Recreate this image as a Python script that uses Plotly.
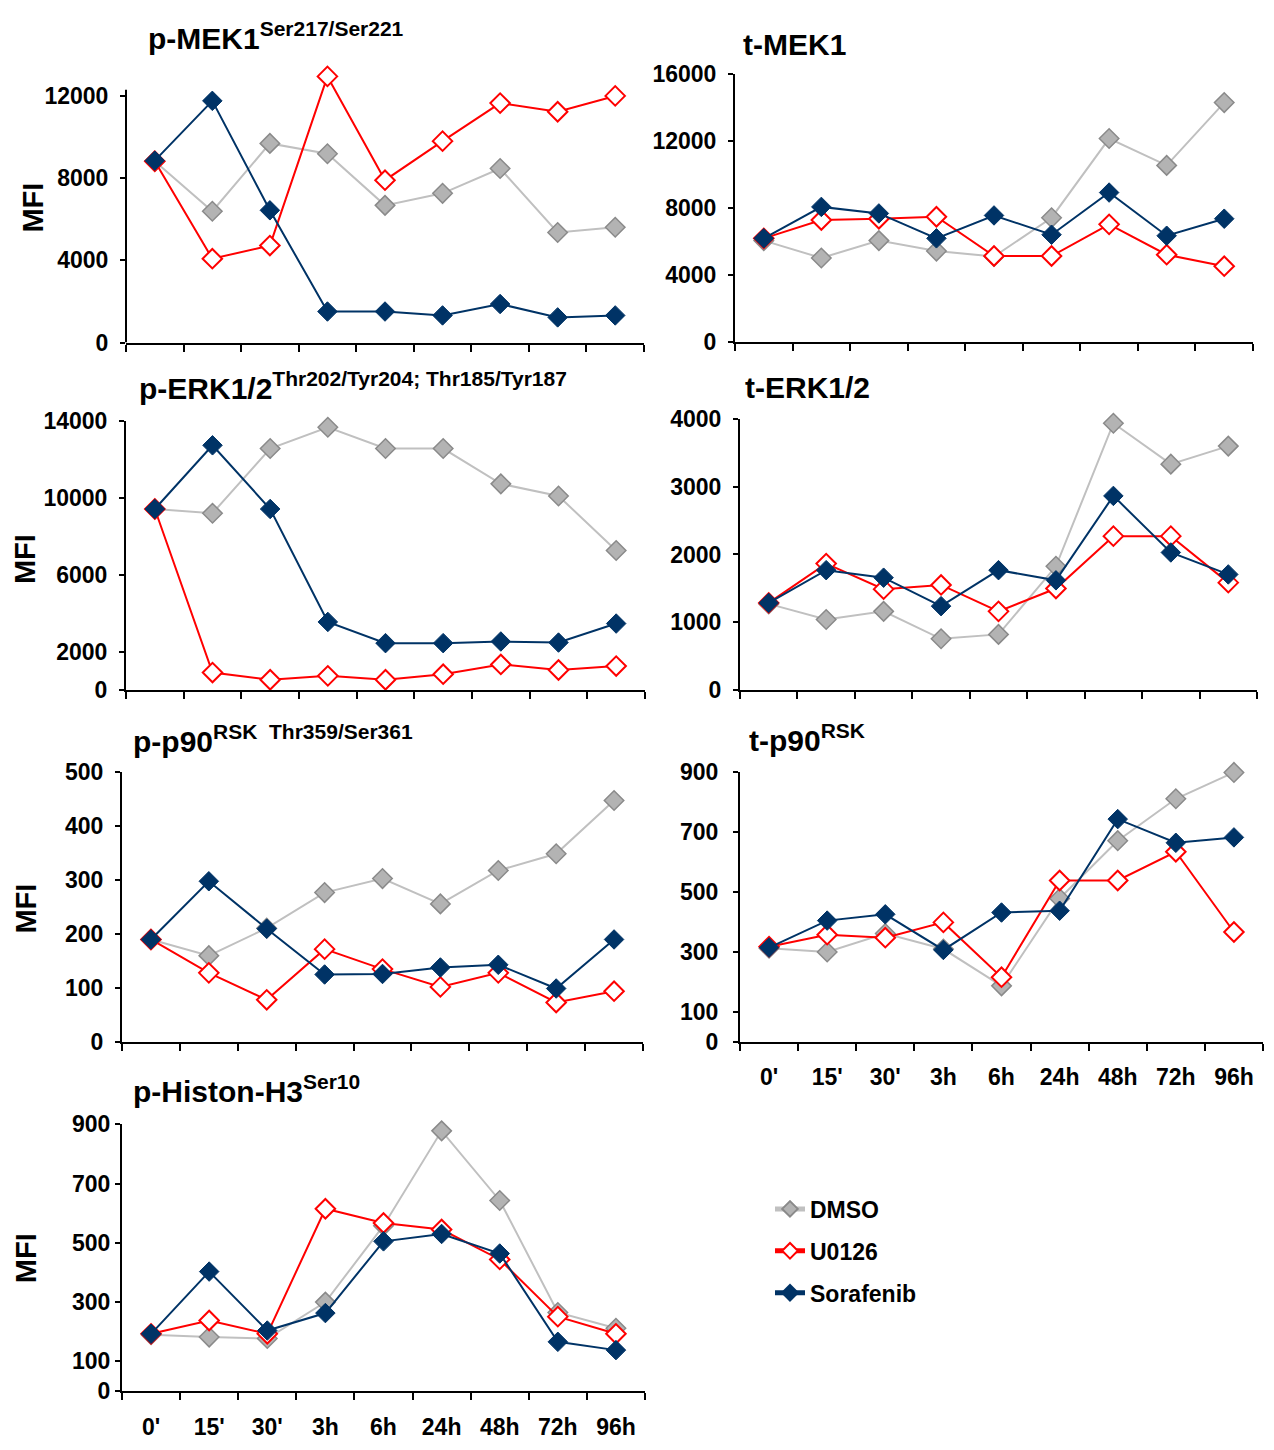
import plotly.graph_objects as go

# ---------------- data ----------------
categories = ["0'", "15'", "30'", "3h", "6h", "24h", "48h", "72h", "96h"]
series_names = ["DMSO", "U0126", "Sorafenib"]

pmek_dmso = [8820, 6390, 9690, 9185, 6675, 7260, 8470, 5355, 5610]
pmek_u0126 = [8820, 4080, 4720, 12950, 7900, 9800, 11650, 11230, 12000]
pmek_sora = [8850, 11760, 6435, 1510, 1510, 1320, 1875, 1225, 1320]

tmek_dmso = [6050, 5015, 6050, 5425, 5100, 7415, 12135, 10535, 14280]
tmek_u0126 = [6185, 7280, 7355, 7470, 5130, 5130, 7020, 5210, 4525]
tmek_sora = [6185, 8060, 7670, 6185, 7550, 6400, 8915, 6340, 7355]

perk_dmso = [9430, 9210, 12580, 13690, 12580, 12580, 10740, 10110, 7265]
perk_u0126 = [9430, 905, 530, 735, 530, 820, 1330, 1040, 1245]
perk_sora = [9430, 12750, 9430, 3545, 2440, 2440, 2525, 2470, 3460]

terk_dmso = [1270, 1040, 1160, 755, 820, 1825, 3937, 3333, 3599]
terk_u0126 = [1285, 1865, 1488, 1550, 1160, 1497, 2270, 2270, 1584]
terk_sora = [1285, 1768, 1657, 1237, 1768, 1618, 2864, 2029, 1705]

prsk_dmso = [190, 160, 211, 277, 303, 256, 318, 349, 448]
prsk_u0126 = [190, 128, 78, 172, 135, 102, 128, 73, 94]
prsk_sora = [190, 298, 210, 125, 126, 138, 143, 99, 190]

trsk_dmso = [313, 300, 362, 310, 187, 479, 672, 812, 900]
trsk_u0126 = [318, 358, 348, 399, 216, 539, 539, 635, 367]
trsk_sora = [315, 405, 426, 307, 432, 438, 744, 665, 683]

ph3_dmso = [190, 182, 177, 300, 558, 878, 643, 265, 212]
ph3_u0126 = [193, 238, 193, 615, 567, 545, 444, 251, 193]
ph3_sora = [193, 403, 204, 263, 505, 530, 464, 166, 138]

titles = [
    "p-MEK1<sup>Ser217/Ser221</sup>",
    "t-MEK1",
    "p-ERK1/2<sup>Thr202/Tyr204; Thr185/Tyr187</sup>",
    "t-ERK1/2",
    "p-p90<sup>RSK  Thr359/Ser361</sup>",
    "t-p90<sup>RSK</sup>",
    "p-Histon-H3<sup>Ser10</sup>",
]
yticks = [
    [0, 4000, 8000, 12000],
    [0, 4000, 8000, 12000, 16000],
    [0, 2000, 6000, 10000, 14000],
    [0, 1000, 2000, 3000, 4000],
    [0, 100, 200, 300, 400, 500],
    [0, 100, 300, 500, 700, 900],
    [0, 100, 300, 500, 700, 900],
]
panel_data = [
    (pmek_dmso, pmek_u0126, pmek_sora),
    (tmek_dmso, tmek_u0126, tmek_sora),
    (perk_dmso, perk_u0126, perk_sora),
    (terk_dmso, terk_u0126, terk_sora),
    (prsk_dmso, prsk_u0126, prsk_sora),
    (trsk_dmso, trsk_u0126, trsk_sora),
    (ph3_dmso, ph3_u0126, ph3_sora),
]

# ---------------- layout geometry (pixels of the 1274x1450 page) ----------------
PAGE_W, PAGE_H, BODY = 1274, 1450, 8
W, H = PAGE_W - 2 * BODY, PAGE_H - 2 * BODY


def px(x):
    return (x - BODY) / W


def py(y):
    return 1 - (y - BODY) / H


# x-left, x-right, pixel of y=0, ref tick value, pixel of ref tick, range max, ylabel standoff
geom = [
    (126, 644, 335.5, 12000, 84.3, 13200, 7),
    (735, 1253, 335.0, 16000, 61.7, 16000, 7),
    (126, 645, 689.3, 14000, 415.7, 14000, 7),
    (740, 1257, 689.3, 4000, 413.3, 4000, 7),
    (122, 643, 1047.7, 500, 773.3, 500, 7),
    (740, 1263, 1047.7, 900, 773.3, 900, 10),
    (122, 645, 1403.3, 900, 1131.7, 900, 0),
]
show_xlabels = [False, False, False, False, False, True, True]
title_pos = [(146, 37), (741, 43), (137, 393), (743, 392), (131, 753), (747, 752), (131, 1109)]
mfi_pos = [(33, 198), None, (25, 556), None, (26, 912), None, (26, 1268)]

FONT = "Liberation Sans, Arial, sans-serif"
styles = [
    dict(line=dict(color="#C0C0C0", width=2),
         marker=dict(symbol="diamond", size=15, color="#B3B3B3", line=dict(color="#8A8A8A", width=1.5))),
    dict(line=dict(color="#FF0000", width=2),
         marker=dict(symbol="diamond", size=15, color="#FFFFFF", line=dict(color="#FF0000", width=2))),
    dict(line=dict(color="#003366", width=2),
         marker=dict(symbol="diamond", size=15, color="#003366", line=dict(color="#003366", width=1))),
]

fig = go.Figure()
layout = dict(
    width=W, height=H,
    margin=dict(l=0, r=0, t=0, b=0),
    paper_bgcolor="white", plot_bgcolor="white",
    font=dict(family=FONT, color="black"),
    showlegend=True,
    legend=dict(x=px(770), y=py(1196), xanchor="left", yanchor="top",
                font=dict(size=23, family=FONT, weight="bold"),
                tracegroupgap=9, itemsizing="constant", bgcolor="rgba(0,0,0,0)"),
)
annotations = []
shapes = []

for i, (g, data) in enumerate(zip(geom, panel_data), start=1):
    xl, xr, y0, tv, tpx, rmax, stand = g
    scale = (y0 - tpx) / tv
    top = y0 - rmax * scale
    xa = "x" if i == 1 else f"x{i}"
    ya = "y" if i == 1 else f"y{i}"
    layout[f"xaxis{i}"] = dict(
        domain=[px(xl), px(xr)], anchor=ya, type="category",
        categoryorder="array", categoryarray=categories, range=[-0.5, 8.5],
        tickson="boundaries", ticks="outside", ticklen=7, tickwidth=2, tickcolor="black",
        showline=True, linewidth=2, linecolor="black", showgrid=False, zeroline=False,
        showticklabels=show_xlabels[i - 1], ticklabelstandoff=14,
        tickfont=dict(size=23, family=FONT, weight="bold", color="black"),
    )
    layout[f"yaxis{i}"] = dict(
        domain=[py(y0), py(top)], anchor=xa, range=[0, rmax],
        tickmode="array", tickvals=yticks[i - 1], ticktext=[str(v) for v in yticks[i - 1]],
        ticks="outside", ticklen=5, tickwidth=2, tickcolor="black",
        showline=(i != 1), linewidth=2, linecolor="black", showgrid=False, zeroline=False,
        ticklabelstandoff=stand,
        tickfont=dict(size=23, family=FONT, weight="bold", color="black"),
    )
    if i == 1:
        shapes.append(dict(type="line", xref="x domain", x0=0, x1=0, yref="y", y0=0, y1=12300,
                           line=dict(color="black", width=2)))
    for name, vals, st in zip(series_names, data, styles):
        fig.add_trace(go.Scatter(
            x=categories, y=vals, name=name, mode="lines+markers",
            xaxis=xa, yaxis=ya, legendgroup=name, showlegend=(i == 7),
            cliponaxis=False, **st))
    tx, tyb = title_pos[i - 1]
    annotations.append(dict(
        text=titles[i - 1], x=px(tx), y=py(tyb + 8), xref="paper", yref="paper",
        xanchor="left", yanchor="bottom", showarrow=False,
        font=dict(size=30, family=FONT, weight="bold", color="black")))
    if mfi_pos[i - 1]:
        mx, my = mfi_pos[i - 1]
        annotations.append(dict(
            text="MFI", x=px(mx), y=py(my), xref="paper", yref="paper",
            xanchor="center", yanchor="middle", textangle=-90, showarrow=False,
            font=dict(size=29, family=FONT, weight="bold", color="black")))

layout["annotations"] = annotations
layout["shapes"] = shapes
fig.update_layout(**layout)
fig.write_html("out.html")
